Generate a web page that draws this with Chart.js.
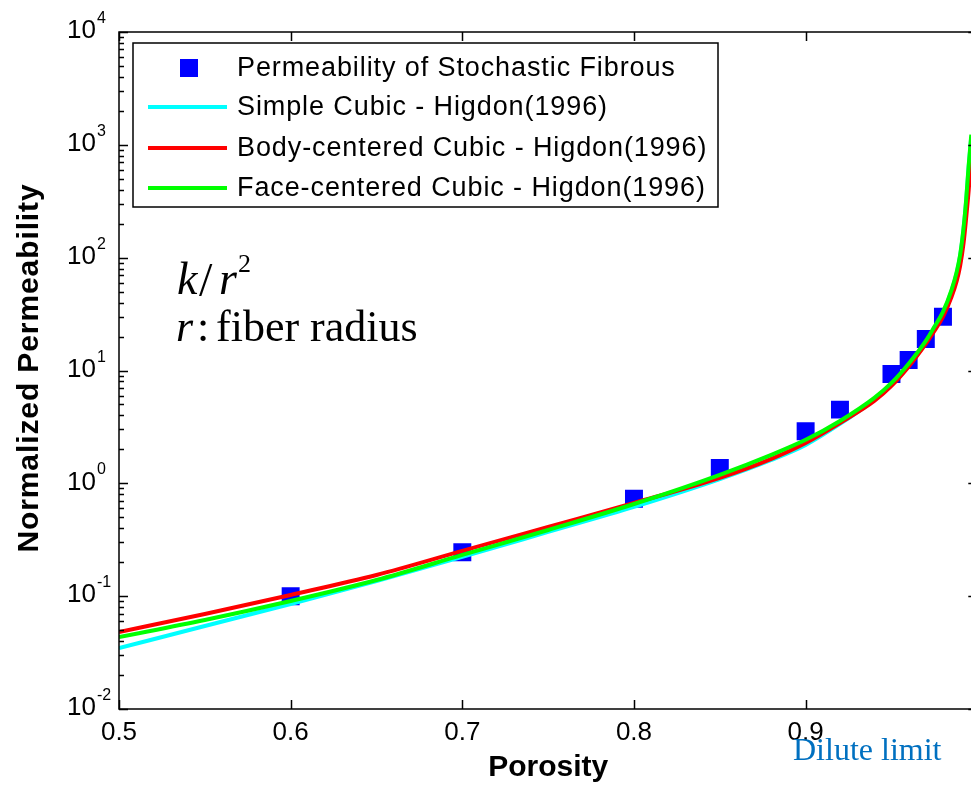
<!DOCTYPE html>
<html>
<head>
<meta charset="utf-8">
<script src="https://cdn.jsdelivr.net/npm/chart.js@4.4.1/dist/chart.umd.min.js"></script>
<style>
html, body { margin: 0; padding: 0; background: #fff; overflow: hidden; }
#wrap { width: 990px; height: 785px; position: relative; }
</style>
</head>
<body>
<div id="wrap"><canvas id="perm"></canvas></div>
<script>
// porosity grid of the Higdon curves
var porosity      = [0.5, 0.55, 0.6, 0.65, 0.7, 0.75, 0.8, 0.85, 0.88, 0.9, 0.92, 0.94, 0.95, 0.96, 0.97, 0.975, 0.98, 0.985, 0.988, 0.99, 0.992, 0.9935, 0.995, 0.9965];
var simpleCubic   = [0.0347, 0.0544, 0.0853, 0.136, 0.223, 0.371, 0.618, 1.09, 1.61, 2.19, 3.36, 5.49, 7.45, 11.0, 17.9, 23.9, 32.4, 50.8, 73.3, 104, 180, 319, 646, 1180];
var bodyCentered  = [0.0481, 0.0695, 0.1025, 0.154, 0.252, 0.411, 0.670, 1.12, 1.65, 2.28, 3.43, 5.37, 7.30, 10.8, 17.2, 22.4, 29.9, 44.9, 62.2, 84.6, 135, 225, 399, 815];
var faceCentered  = [0.0434, 0.0615, 0.0906, 0.139, 0.232, 0.386, 0.656, 1.19, 1.79, 2.43, 3.57, 5.72, 7.76, 11.5, 18.3, 24.4, 33.1, 51.9, 74.8, 106, 184, 325, 665, 1230];

// stochastic fibrous samples
var samplePorosity = [0.6, 0.7, 0.8, 0.85, 0.9, 0.92, 0.95, 0.96, 0.97, 0.98];
var samplePerm     = [0.1, 0.245, 0.73, 1.37, 2.9, 4.5, 9.3, 12.4, 19, 30];

var seriesNames = ['Permeability of Stochastic Fibrous', 'Simple Cubic - Higdon(1996)', 'Body-centered Cubic - Higdon(1996)', 'Face-centered Cubic - Higdon(1996)'];
var xTicks = [0.5, 0.6, 0.7, 0.8, 0.9, 1.0];
var xTickLabels = ['0.5', '0.6', '0.7', '0.8', '0.9', '1'];
var yExponents = [-2, -1, 0, 1, 2, 3, 4];

function pts(xs, ys) {
    return xs.map(function (x, i) { return { x: x, y: ys[i] }; });
}

function curve(label, values, color, order) {
    return {
        label: label,
        data: pts(porosity, values),
        showLine: true,
        borderColor: color,
        backgroundColor: color,
        borderWidth: 4,
        pointRadius: 0,
        cubicInterpolationMode: 'monotone',
        order: order
    };
}

var matlabFrame = {
    id: 'matlabFrame',
    afterDraw: function (chart) {
        var ctx = chart.ctx;
        var xs = chart.scales.x, ys = chart.scales.y;
        var a = chart.chartArea;
        ctx.save();

        // box
        ctx.strokeStyle = '#000';
        ctx.lineWidth = 1.5;
        ctx.strokeRect(a.left, a.top, a.right - a.left, a.bottom - a.top);

        // x ticks (inward, top and bottom)
        ctx.beginPath();
        xTicks.forEach(function (v) {
            var px = Math.round(xs.getPixelForValue(v)) + 0.5;
            ctx.moveTo(px, a.bottom); ctx.lineTo(px, a.bottom - 9);
            ctx.moveTo(px, a.top); ctx.lineTo(px, a.top + 9);
        });
        // y ticks, major and minor
        yExponents.forEach(function (e) {
            for (var m = 1; m <= 9; m++) {
                if (e === 4 && m > 1) break;
                var py = Math.round(ys.getPixelForValue(m * Math.pow(10, e))) + 0.5;
                var len = m === 1 ? 9 : 5;
                ctx.moveTo(a.left, py); ctx.lineTo(a.left + len, py);
                ctx.moveTo(a.right, py); ctx.lineTo(a.right - len, py);
            }
        });
        ctx.stroke();

        // tick labels
        ctx.fillStyle = '#000';
        ctx.font = '26px "Liberation Sans", Arial, sans-serif';
        ctx.textAlign = 'center';
        ctx.textBaseline = 'alphabetic';
        xTicks.forEach(function (v, i) {
            ctx.fillText(xTickLabels[i], xs.getPixelForValue(v), 740);
        });
        ctx.textAlign = 'left';
        yExponents.forEach(function (e) {
            var py = ys.getPixelForValue(Math.pow(10, e));
            ctx.font = '26px "Liberation Sans", Arial, sans-serif';
            var bw = ctx.measureText('10').width;
            ctx.textBaseline = 'middle';
            ctx.fillText('10', 67, py - 1);
            ctx.font = '16px "Liberation Sans", Arial, sans-serif';
            ctx.textBaseline = 'alphabetic';
            ctx.fillText(String(e), 67 + bw + 1, py - 9);
        });

        // axis titles
        ctx.font = 'bold 30px "Liberation Sans", Arial, sans-serif';
        ctx.textAlign = 'center';
        ctx.textBaseline = 'middle';
        ctx.fillText('Porosity', (a.left + a.right) / 2, 768);
        ctx.save();
        ctx.translate(30, 368);
        ctx.rotate(-Math.PI / 2);
        ctx.letterSpacing = '0.9px';
        ctx.fillText('Normalized Permeability', 0, 0);
        ctx.restore();

        // legend
        ctx.fillStyle = '#fff';
        ctx.fillRect(133, 43, 585, 164);
        ctx.lineWidth = 1.5;
        ctx.strokeStyle = '#000';
        ctx.strokeRect(133, 43, 585, 164);
        var rows = [68, 107, 148, 188];
        chart.data.datasets.forEach(function (ds, i) {
            var y = rows[i];
            if (i === 0) {
                ctx.fillStyle = ds.backgroundColor;
                ctx.fillRect(180, y - 9, 18, 18);
            } else {
                ctx.strokeStyle = ds.borderColor;
                ctx.lineWidth = 4;
                ctx.beginPath();
                ctx.moveTo(148, y); ctx.lineTo(227, y);
                ctx.stroke();
            }
            ctx.fillStyle = '#000';
            ctx.font = '27px "Liberation Sans", Arial, sans-serif';
            ctx.letterSpacing = '0.9px';
            ctx.textAlign = 'left';
            ctx.textBaseline = 'middle';
            ctx.fillText(ds.label, 237, y + 1);
            ctx.letterSpacing = '0px';
        });

        // annotations
        ctx.textBaseline = 'alphabetic';
        ctx.fillStyle = '#000';
        ctx.font = 'italic 46px "Liberation Serif", "Times New Roman", serif';
        ctx.fillText('k', 177, 294);
        ctx.font = '48px "Liberation Serif", "Times New Roman", serif';
        ctx.fillText('/', 199, 296);
        ctx.font = 'italic 46px "Liberation Serif", "Times New Roman", serif';
        ctx.fillText('r', 219, 294);
        ctx.font = '26px "Liberation Serif", "Times New Roman", serif';
        ctx.fillText('2', 238, 272);

        ctx.font = 'italic 44px "Liberation Serif", "Times New Roman", serif';
        ctx.fillText('r', 176, 341);
        ctx.font = '44px "Liberation Serif", "Times New Roman", serif';
        ctx.fillText(':', 197, 341);
        ctx.fillText('fiber radius', 216, 341);

        ctx.fillStyle = '#0070c0';
        ctx.font = '32px "Liberation Serif", "Times New Roman", serif';
        ctx.fillText('Dilute limit', 793, 760);
        ctx.restore();
    }
};

var ctx = document.getElementById('perm').getContext('2d');
var permChart = new Chart(ctx, {
    type: 'scatter',
    data: {
        datasets: [
            {
                label: seriesNames[0],
                data: pts(samplePorosity, samplePerm),
                pointStyle: 'rect',
                pointRadius: 12.7,
                pointBorderWidth: 0,
                borderWidth: 0,
                backgroundColor: '#0000ff',
                borderColor: '#0000ff',
                showLine: false,
                order: 4
            },
            curve(seriesNames[1], simpleCubic, '#00ffff', 3),
            curve(seriesNames[2], bodyCentered, '#ff0000', 2),
            curve(seriesNames[3], faceCentered, '#00ff00', 1)
        ]
    },
    options: {
        responsive: true,
        maintainAspectRatio: false,
        animation: false,
        layout: { padding: { left: 119, right: 11, top: 32, bottom: 76 } },
        plugins: {
            legend: { display: false },
            tooltip: { enabled: false }
        },
        scales: {
            x: { type: 'linear', min: 0.5, max: 1.0, display: false },
            y: { type: 'logarithmic', min: 0.01, max: 10000, display: false }
        }
    },
    plugins: [matlabFrame]
});
</script>
</body>
</html>
